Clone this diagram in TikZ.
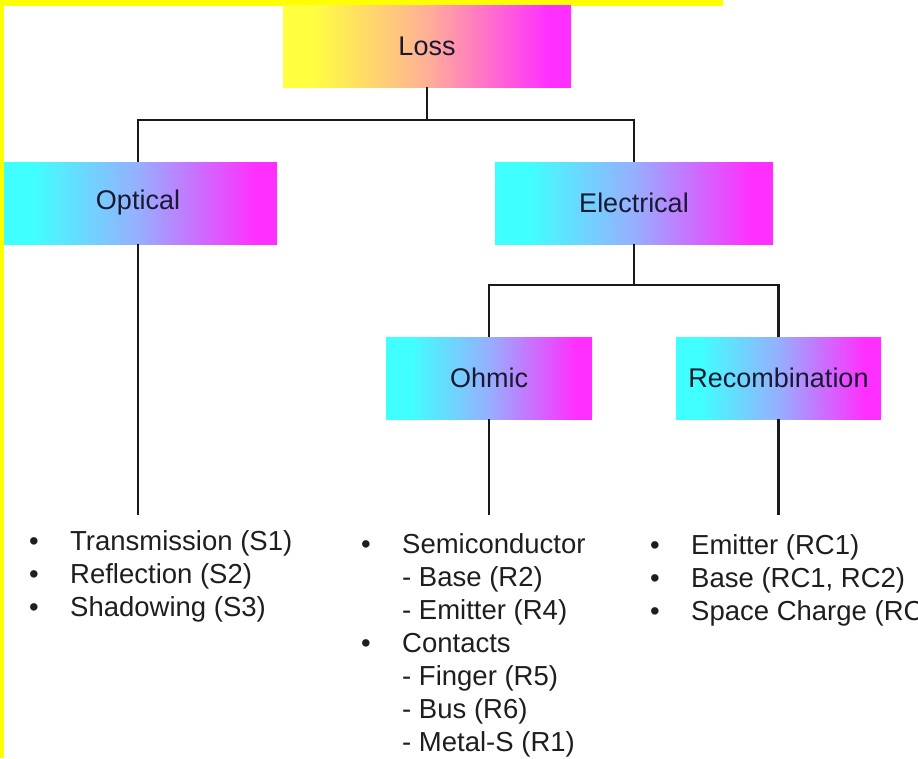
\documentclass[tikz,border=0pt]{standalone}
\usepackage{fontspec}
\setmainfont{Liberation Sans}
\definecolor{cyanA}{RGB}{64,255,255}
\definecolor{lavB}{RGB}{150,175,255}
\definecolor{magC}{RGB}{255,48,255}
\definecolor{yelA}{RGB}{255,255,64}
\definecolor{peachB}{RGB}{255,176,150}
\definecolor{boxtext}{RGB}{25,25,50}
\definecolor{listtext}{RGB}{30,30,30}
\definecolor{bordery}{RGB}{255,255,0}
\pgfdeclarehorizontalshading{cyanmag}{100bp}{color(0bp)=(cyanA); color(25bp)=(cyanA); color(31bp)=(cyanA); color(50bp)=(lavB); color(71bp)=(magC); color(75bp)=(magC); color(100bp)=(magC)}
\pgfdeclarehorizontalshading{yelmag}{100bp}{color(0bp)=(yelA); color(25bp)=(yelA); color(30bp)=(yelA); color(50bp)=(peachB); color(71bp)=(magC); color(75bp)=(magC); color(100bp)=(magC)}
\tikzset{
  catbox/.style={shading=cyanmag, minimum height=82pt, inner sep=0pt,
    text=boxtext, font=\fontsize{27}{32}\selectfont},
  rootbox/.style={shading=yelmag, minimum height=82pt, inner sep=0pt,
    text=boxtext, font=\fontsize{27}{32}\selectfont},
  conn/.style={draw=black!90, line width=2.3pt},
  listnode/.style={anchor=base west, inner sep=0pt, text=listtext,
    font=\fontsize{27.5}{33}\selectfont}
}
\begin{document}
\begin{tikzpicture}[x=1pt,y=-1pt]
\useasboundingbox (0,0) rectangle (918,758);
\fill[bordery] (0,0) rectangle (723,5.5);

\node[rootbox, minimum width=288pt] (loss) at (427,46) {Loss};
\node[catbox, minimum width=278pt] (opt) at (138,203) {\raisebox{-2pt}{Optical}};
\node[catbox, minimum width=278pt] (elec) at (634,203) {Electrical};
\node[catbox, minimum width=206pt] (ohm) at (489,378) {Ohmic};
\node[catbox, minimum width=205pt] (rec) at (778.5,378) {Recombination};

\fill[bordery] (0,0) rectangle (3.5,758);

\coordinate (optend) at (138,515);
\coordinate (ohmend) at (489,515);
\coordinate (recend) at (778.5,515);

\draw[conn] (loss.south) -- ++(0,33) -| (opt.north);
\draw[conn] (loss.south) ++(0,33) -| (elec.north);
\draw[conn] (elec.south) -- ++(0,41) -| (ohm.north);
\draw[conn] (elec.south) ++(0,41) -| (rec.north);
\draw[conn] (opt.south) -- (optend);
\draw[conn] (ohm.south) -- (ohmend);
\draw[conn] (rec.south) -- (recend);

\node[listnode] (optlist) at (29,550) {\begin{tabular}[t]{@{}p{41pt}@{}l@{}}
•&Transmission (S1)\\
•&Reflection (S2)\\
•&Shadowing (S3)
\end{tabular}};

\node[listnode] (ohmlist) at (361,553) {\begin{tabular}[t]{@{}p{41pt}@{}l@{}}
•&Semiconductor\\
&- Base (R2)\\
&- Emitter (R4)\\
•&Contacts\\
&- Finger (R5)\\
&- Bus (R6)\\
&- Metal-S (R1)
\end{tabular}};

\node[listnode] (reclist) at (650,554) {\begin{tabular}[t]{@{}p{41pt}@{}l@{}}
•&Emitter (RC1)\\
•&Base (RC1, RC2)\\
•&Space Charge (RC
\end{tabular}};
\end{tikzpicture}
\end{document}
